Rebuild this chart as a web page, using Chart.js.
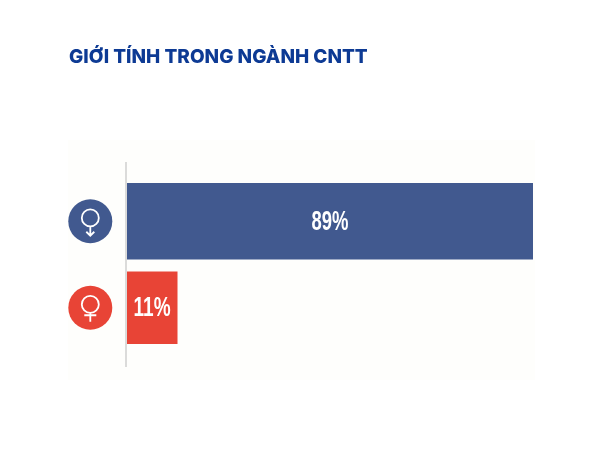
<!DOCTYPE html>
<html>
<head>
<meta charset="utf-8">
<script src="https://cdn.jsdelivr.net/npm/chart.js@4"></script>
<style>
html, body { margin: 0; padding: 0; background: #fff; }
canvas { display: block; }
</style>
</head>
<body>
<canvas id="GenderChart" width="600" height="450"></canvas>
<script>
var chartTitle = 'GIỚI TÍNH TRONG NGÀNH CNTT';
var categories = ['Nam', 'Nữ'];
var maleValues = [89, null];
var femaleValues = [null, 11];

var BLUE = '#41598f';
var RED = '#e84436';

// pale panel behind the chart, axis line running past the bars
var panelPlugin = {
    id: 'panel',
    beforeDraw: function (chart) {
        var c = chart.ctx;
        c.save();
        c.fillStyle = '#fefefc';
        c.fillRect(68, 140, 467, 240);
        c.strokeStyle = '#cfcfcf';
        c.lineWidth = 1.5;
        c.beginPath();
        c.moveTo(chart.scales.x.left - 1, 162);
        c.lineTo(chart.scales.x.left - 1, 367);
        c.stroke();
        c.restore();
    }
};

// round gender icons sitting on the category ticks
var iconPlugin = {
    id: 'icons',
    afterDraw: function (chart) {
        var c = chart.ctx;
        var yScale = chart.scales.y;
        categories.forEach(function (name, i) {
            var cx = 90.3;
            var cy = yScale.getPixelForTick(i);
            c.save();
            c.fillStyle = i === 0 ? BLUE : RED;
            c.beginPath();
            c.arc(cx, cy, 22, 0, Math.PI * 2);
            c.fill();
            c.strokeStyle = '#fff';
            c.lineWidth = 1.8;
            c.beginPath();
            c.arc(cx, cy - 3.3, 8.5, 0, Math.PI * 2);
            c.moveTo(cx, cy + 5.2);
            c.lineTo(cx, cy + 14);
            if (i === 0) {
                c.moveTo(cx - 4, cy + 10.5);
                c.lineTo(cx, cy + 14.5);
                c.lineTo(cx + 4, cy + 10.5);
            } else {
                c.moveTo(cx - 6, cy + 7.5);
                c.lineTo(cx + 6, cy + 7.5);
            }
            c.stroke();
            c.restore();
        });
    }
};

// percent text in the middle of each bar, squeezed to look condensed
var labelPlugin = {
    id: 'barLabels',
    afterDatasetsDraw: function (chart) {
        var c = chart.ctx;
        c.save();
        c.fillStyle = '#fff';
        c.font = 'bold 27px "Liberation Sans"';
        c.textAlign = 'center';
        c.textBaseline = 'middle';
        chart.data.datasets.forEach(function (ds, d) {
            chart.getDatasetMeta(d).data.forEach(function (bar, i) {
                if (ds.data[i] == null) return;
                c.fillText(ds.data[i] + '%', (bar.x + bar.base) / 2, bar.y + 1, 37);
            });
        });
        c.restore();
    }
};

var ctx = document.getElementById('GenderChart').getContext('2d');
var GenderChart = new Chart(ctx, {
    type: 'bar',
    data: {
        labels: categories,
        datasets: [{
            label: 'Nam',
            data: maleValues,
            backgroundColor: BLUE,
            barThickness: 76
        }, {
            label: 'Nữ',
            data: femaleValues,
            backgroundColor: RED,
            barThickness: 72
        }]
    },
    plugins: [panelPlugin, iconPlugin, labelPlugin],
    options: {
        indexAxis: 'y',
        responsive: false,
        animation: false,
        layout: { padding: { left: 69, right: 67, top: 0, bottom: 99 } },
        scales: {
            x: {
                display: false,
                stacked: true,
                min: 0,
                max: 89
            },
            y: {
                stacked: true,
                grid: { display: false },
                border: { display: false },
                ticks: { display: false },
                afterFit: function (scale) { scale.width = 58; }
            }
        },
        plugins: {
            legend: { display: false },
            tooltip: { enabled: false },
            title: {
                display: true,
                text: chartTitle,
                align: 'start',
                color: '#0d3a94',
                font: { family: 'Inter', size: 19, weight: '800', lineHeight: 1.2 },
                padding: { top: 45.5, bottom: 109.7 }
            }
        }
    }
});
</script>
</body>
</html>
